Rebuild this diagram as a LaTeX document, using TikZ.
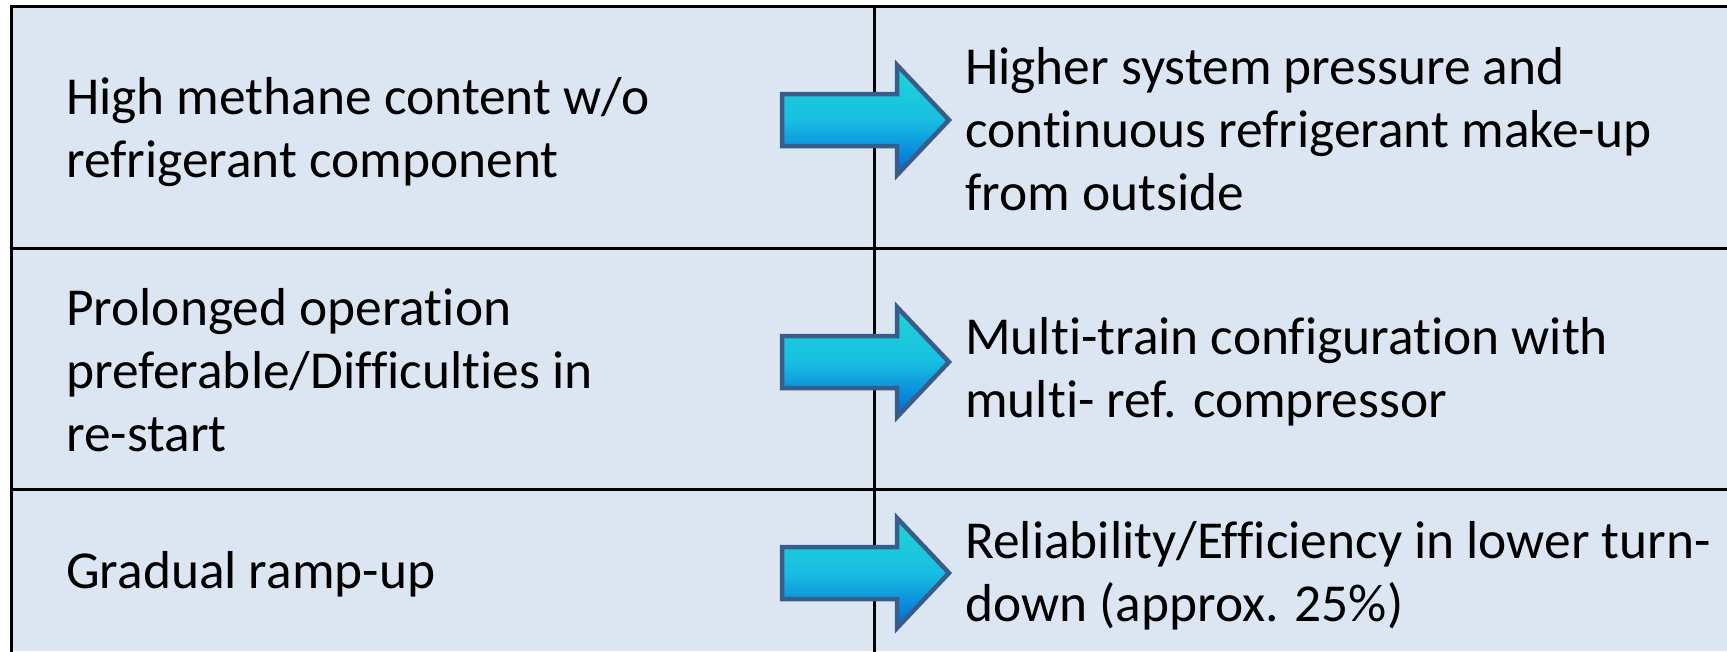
\documentclass[tikz,border=0pt]{standalone}
\usepackage{fontspec}
\setmainfont[Ligatures=NoCommon]{Carlito}
\definecolor{cellbg}{RGB}{220,230,242}
\definecolor{arrowline}{RGB}{56,93,138}
\definecolor{arrowtop}{RGB}{32,214,212}
\definecolor{arrowmid}{RGB}{24,190,226}
\definecolor{arrowbot}{RGB}{0,102,214}
\tikzset{
  gridline/.style={line width=3pt, black},
  celltext/.style={anchor=west, inner sep=0pt, align=left, font=\fontsize{53.4}{63}\selectfont, text=black},
  bigarrow/.style={line width=4.5pt, draw=arrowline, line join=miter, top color=arrowtop, bottom color=arrowbot, middle color=arrowmid},
}
\newcommand\fatarrow[2]{%
  \path[bigarrow] (782,{#1-26}) -- (897,{#1-26}) -- (897,{#1-55}) -- (949,{#1}) -- (897,{#1+55}) -- (897,{#1+26}) -- (782,{#1+26}) -- cycle;
  \coordinate (#2) at (865,#1);
}
\begin{document}
\begin{tikzpicture}[x=1pt,y=-1pt]
\useasboundingbox (0,0) rectangle (1727,651);
\fill[cellbg] (11.5,6.5) rectangle (1727,651);
% grid
\draw[gridline] (11.5,700) -- (11.5,6.5) -- (1727,6.5);
\draw[gridline] (11.5,248) -- (1727,248);
\draw[gridline] (11.5,489) -- (1727,489);
\draw[gridline] (874,6.5) -- (874,700);
% arrows
\fatarrow{120}{a1}
\fatarrow{362}{a2}
\fatarrow{573}{a3}
% texts
\node[celltext] (l1) at (66,132) {High methane content w/o\\refrigerant component};
\node[celltext] (r1) at (965,129) {Higher system pressure and\\continuous refrigerant make-up\\from outside};
\node[celltext] (l2) at (66,370) {Prolonged operation\\preferable/Difficulties in\\re-start};
\node[celltext] (r2) at (965,372) {Multi-train configuration with\\multi- ref. compressor};
\node[celltext] (l3) at (66,574) {Gradual ramp-up};
\node[celltext] (r3) at (965,576) {Reliability/Efficiency in lower turn-\\down (approx. 25\%)};
\end{tikzpicture}
\end{document}
